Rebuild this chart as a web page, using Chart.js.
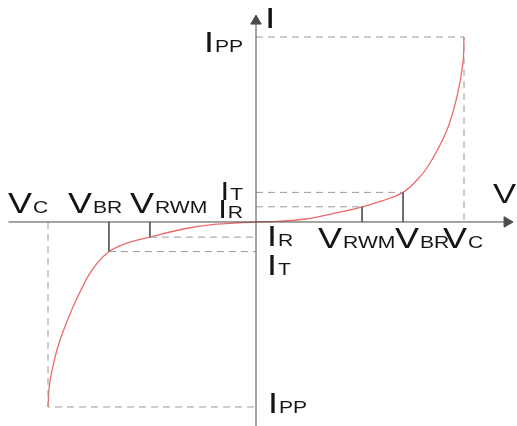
<!DOCTYPE html>
<html>
<head>
<meta charset="utf-8">
<script src="https://cdn.jsdelivr.net/npm/chart.js@4"></script>
<style>
  html, body { margin: 0; padding: 0; background: #fff; }
  #wrap { width: 517px; height: 426px; position: relative; }
</style>
</head>
<body>
<div id="wrap"><canvas id="ivChart"></canvas></div>
<script>
// Characteristic levels (normalised units, Vc = Ipp = 10)
const VC = 10, VBR = 7.07, VRWM = 5.1;
const IPP = 10, IT = 1.6, IR = 0.82;

// I-V curve, from reverse clamp to forward clamp
const curveV = [-10, -9.93, -9.68, -9.42, -8.8, -7.98, -7.07, -6.2, -5.1, -3.5, -1.9, 0,
                1, 2.4, 3.85, 5.1, 6.1, 7.07, 7.74, 8.37, 9.18, 9.66, 9.95, 10];
const curveI = [-10, -8.8, -7.4, -6.38, -4.6, -2.76, -1.6, -1.14, -0.82, -0.38, -0.12, 0,
                0.03, 0.16, 0.49, 0.82, 1.15, 1.6, 2.27, 3.19, 4.97, 6.76, 8.6, 10];

// axis extents
const xAxisFrom = -11.9, xAxisTo = 12.07;
const yAxisFrom = -11.5, yAxisTo = 10.86;

// label text: [main letter, subscript]
const labelText = {
    VC: ['V', 'C'], VBR: ['V', 'BR'], VRWM: ['V', 'RWM'],
    IPP: ['I', 'PP'], IT: ['I', 'T'], IR: ['I', 'R'],
    I: ['I', ''], V: ['V', '']
};

const AXIS = '#4a4a4a';
const DASH = '#9a9a9a';
const TICK = '#5a5a5a';
const CURVE = '#ec6a6a';
const TEXT = '#151515';

function seg(points, color, dash) {
    return {
        data: points.map(p => ({ x: p[0], y: p[1] })),
        showLine: true,
        borderColor: color,
        borderWidth: 1,
        borderDash: dash ? [7, 5] : [],
        pointRadius: 0,
        fill: false
    };
}

function arrow(x, y, rot) {
    return {
        data: [{ x: x, y: y }],
        showLine: false,
        pointStyle: 'triangle',
        rotation: rot,
        pointRadius: 6,
        pointBackgroundColor: AXIS,
        pointBorderColor: AXIS,
        pointBorderWidth: 1
    };
}

const datasets = [
    // axes
    seg([[xAxisFrom, 0], [xAxisTo, 0]], AXIS, false),
    seg([[0, yAxisFrom], [0, yAxisTo]], AXIS, false),
    arrow(xAxisTo, 0, 90),
    arrow(0, yAxisTo, 0),
    // forward side guides
    seg([[0, IPP], [VC, IPP], [VC, 0]], DASH, true),
    seg([[0, IT], [VBR, IT]], DASH, true),
    seg([[0, IR], [VRWM, IR]], DASH, true),
    seg([[VBR, IT], [VBR, 0]], TICK, false),
    seg([[VRWM, IR], [VRWM, 0]], TICK, false),
    // reverse side guides
    seg([[-VC, 0], [-VC, -IPP], [0, -IPP]], DASH, true),
    seg([[-VBR, -IT], [0, -IT]], DASH, true),
    seg([[-VRWM, -IR], [0, -IR]], DASH, true),
    seg([[-VBR, 0], [-VBR, -IT]], TICK, false),
    seg([[-VRWM, 0], [-VRWM, -IR]], TICK, false),
    // the curve
    {
        data: curveV.map((v, k) => ({ x: v, y: curveI[k] })),
        showLine: true,
        borderColor: CURVE,
        borderWidth: 1.3,
        tension: 0.3,
        pointRadius: 0,
        fill: false
    }
];

// Draws "Main" + subscript, text is slightly stretched like the original
const SX = 1.24;
function drawLabel(ctx, key, x, y, align, big, small) {
    const [main, sub] = labelText[key];
    ctx.font = big + 'px "Liberation Sans", Arial, sans-serif';
    const w1 = ctx.measureText(main).width * SX;
    ctx.font = small + 'px "Liberation Sans", Arial, sans-serif';
    const w2 = sub ? ctx.measureText(sub).width * SX + 1 : 0;
    let left = align === 'right' ? x - w1 - w2 : x;
    ctx.save();
    ctx.fillStyle = TEXT;
    ctx.textBaseline = 'alphabetic';
    ctx.textAlign = 'left';
    ctx.translate(left, y);
    ctx.scale(SX, 1);
    ctx.font = big + 'px "Liberation Sans", Arial, sans-serif';
    ctx.fillText(main, 0, 0);
    if (sub) {
        ctx.font = small + 'px "Liberation Sans", Arial, sans-serif';
        ctx.fillText(sub, (w1 + 1) / SX, 0);
    }
    ctx.restore();
}

const labelPlugin = {
    id: 'ivLabels',
    afterDatasetsDraw(chart) {
        const { ctx, scales: { x, y } } = chart;
        const px = v => x.getPixelForValue(v);
        const py = i => y.getPixelForValue(i);
        // reverse side, above the axis
        drawLabel(ctx, 'VC', px(-VC) - 40, py(0) - 9, 'left', 29, 17);
        drawLabel(ctx, 'VBR', px(-VBR) - 41, py(0) - 9, 'left', 29, 17);
        drawLabel(ctx, 'VRWM', px(-VRWM) - 20, py(0) - 9, 'left', 29, 17);
        drawLabel(ctx, 'IT', px(0) - 13, py(IT) + 8, 'right', 25, 17);
        drawLabel(ctx, 'IR', px(0) - 13, py(IR) + 11, 'right', 25, 17);
        // forward side, below the axis
        drawLabel(ctx, 'VRWM', px(VRWM) - 44, py(0) + 26, 'left', 29, 17);
        drawLabel(ctx, 'VBR', px(VBR) - 8, py(0) + 26, 'left', 29, 17);
        drawLabel(ctx, 'VC', px(VC) - 21, py(0) + 26, 'left', 29, 17);
        drawLabel(ctx, 'IR', px(0) + 11, py(-IR) + 9, 'left', 29, 17);
        drawLabel(ctx, 'IT', px(0) + 11, py(-IT) + 23, 'left', 29, 17);
        // peak current
        drawLabel(ctx, 'IPP', px(0) - 13, py(IPP) + 15, 'right', 29, 17);
        drawLabel(ctx, 'IPP', px(0) + 12, py(-IPP) + 6, 'left', 29, 17);
        // axis names
        drawLabel(ctx, 'I', px(0) + 9, py(yAxisTo) + 7, 'left', 30, 17);
        drawLabel(ctx, 'V', px(xAxisTo) - 14, py(0) - 19, 'left', 28, 17);
    }
};

new Chart(document.getElementById('ivChart'), {
    type: 'scatter',
    data: { datasets: datasets },
    options: {
        responsive: true,
        maintainAspectRatio: false,
        animation: false,
        layout: { padding: 0, autoPadding: false },
        plugins: {
            legend: { display: false },
            tooltip: { enabled: false }
        },
        scales: {
            x: { type: 'linear', display: false, min: -12.308, max: 12.548 },
            y: { type: 'linear', display: false, min: -11.03, max: 12.0 }
        }
    },
    plugins: [labelPlugin]
});
</script>
</body>
</html>
